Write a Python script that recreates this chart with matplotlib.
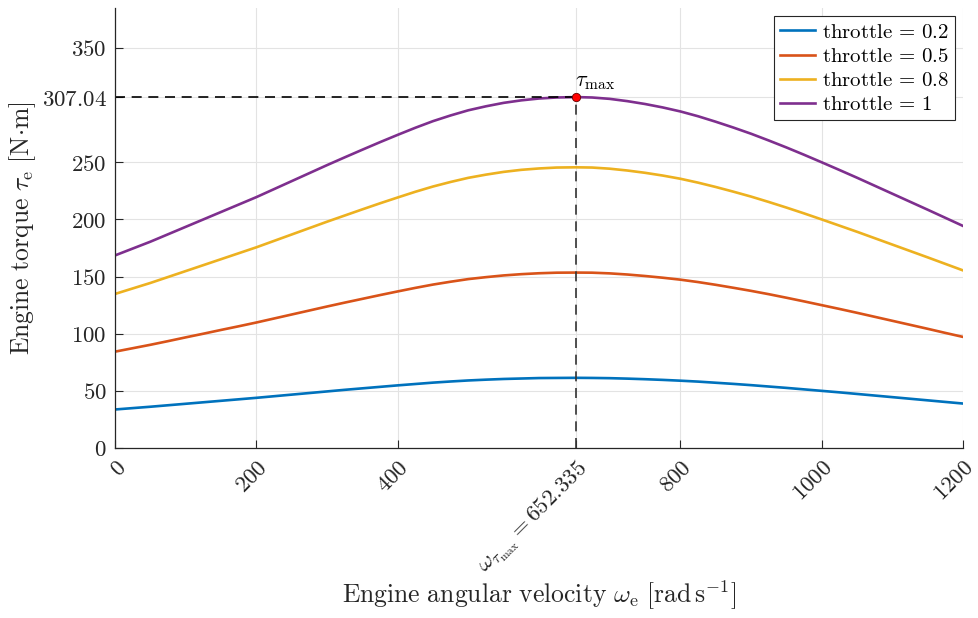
#! /bin/env python3
# torque curves of the engine for a few throttle settings
import matplotlib
matplotlib.use("Agg")
import matplotlib.pyplot as plt

plt.rcParams['mathtext.fontset'] = 'cm'
plt.rcParams['font.family'] = ['DejaVu Serif']

# engine speed samples [rad/s]
omega = [0, 25, 50, 75, 100, 125, 150, 175, 200, 225, 250, 275, 300, 325, 350, 375,
         400, 425, 450, 475, 500, 525, 550, 575, 600, 625, 652.335, 675, 700, 725, 750,
         775, 800, 825, 850, 875, 900, 925, 950, 975, 1000, 1025, 1050, 1075, 1100,
         1125, 1150, 1175, 1200]

# torque [N m]
torque_02 = [33.7, 34.9, 36.1, 37.4, 38.7, 40.0, 41.3, 42.6, 43.9, 45.3, 46.7, 48.1, 49.5,
             50.9, 52.2, 53.5, 54.8, 56.0, 57.2, 58.2, 59.1, 59.8, 60.4, 60.8, 61.2, 61.3,
             61.4, 61.3, 61.1, 60.7, 60.2, 59.6, 58.9, 58.1, 57.1, 56.1, 55.0, 53.8, 52.6,
             51.3, 50.0, 48.7, 47.3, 45.9, 44.5, 43.1, 41.7, 40.3, 38.9]
torque_05 = [84.3, 87.3, 90.3, 93.5, 96.8, 100.0, 103.3, 106.5, 109.8, 113.3, 116.8, 120.3,
             123.8, 127.2, 130.5, 133.8, 137.0, 140.1, 143.0, 145.5, 147.8, 149.5, 151.0,
             152.1, 152.9, 153.4, 153.5, 153.4, 152.8, 151.8, 150.5, 149.0, 147.3, 145.2,
             142.8, 140.2, 137.5, 134.6, 131.5, 128.3, 125.0, 121.7, 118.3, 114.8, 111.3,
             107.8, 104.3, 100.7, 97.2]
torque_08 = [134.8, 139.6, 144.4, 149.6, 154.8, 160.0, 165.2, 170.4, 175.6, 181.2, 186.8,
             192.4, 198.0, 203.4, 208.8, 214.1, 219.2, 224.2, 228.8, 232.8, 236.4, 239.2,
             241.6, 243.4, 244.6, 245.4, 245.6, 245.4, 244.4, 242.8, 240.8, 238.4, 235.6,
             232.2, 228.4, 224.3, 220.0, 215.3, 210.4, 205.3, 200.0, 194.6, 189.2, 183.6,
             178.0, 172.4, 166.8, 161.1, 155.4]
torque_10 = [168.5, 174.5, 180.5, 187.0, 193.5, 200.0, 206.5, 213.0, 219.5, 226.5, 233.5,
             240.5, 247.5, 254.3, 261.0, 267.6, 274.0, 280.2, 286.0, 291.0, 295.5, 299.0,
             302.0, 304.2, 305.8, 306.7, 307.04, 306.7, 305.5, 303.5, 301.0, 298.0, 294.5,
             290.3, 285.5, 280.4, 275.0, 269.1, 263.0, 256.6, 250.0, 243.3, 236.5, 229.5,
             222.5, 215.5, 208.5, 201.4, 194.3]

throttles = ["0.2", "0.5", "0.8", "1"]
series = [torque_02, torque_05, torque_08, torque_10]

omega_peak = 652.335
tau_peak = 307.04

x_ticks = [0, 200, 400, omega_peak, 800, 1000, 1200]
x_ticklabels = ["$0$", "$200$", "$400$", r"$\omega_{\tau_\mathrm{max}} = 652.335$",
                "$800$", "$1000$", "$1200$"]
y_ticks = [0, 50, 100, 150, 200, 250, tau_peak, 350]
y_ticklabels = ["$0$", "$50$", "$100$", "$150$", "$200$", "$250$", "$307.04$", "$350$"]

# matlab default line colors
colors = ["#0072BD", "#D95319", "#EDB120", "#7E2F8E"]
axcol = "#262626"

fig = plt.figure(figsize=(9.79, 6.18), dpi=100)
ax = fig.add_axes([115/979, 1 - 448/618, 848/979, 440/618])

for th, tq, c in zip(throttles, series, colors):
    ax.plot(omega, tq, color=c, lw=1.9, label=r"$\mathrm{throttle}\,=\," + th + "$")

# dashed guides to the maximum torque
ax.plot([0, omega_peak], [tau_peak, tau_peak], color="k", lw=1.2, dashes=(6, 4))
ax.plot([omega_peak, omega_peak], [0, tau_peak], color="#333333", lw=1.2, dashes=(6, 4))
ax.plot([omega_peak], [tau_peak], "o", color="red", mec="#660000", mew=0.6, ms=6, zorder=5)
ax.annotate(r"$\tau_\mathrm{max}$", (omega_peak, tau_peak), xytext=(-1, 4),
            textcoords="offset points", ha="left", va="bottom", fontsize=16)

ax.set_xlim(0, 1200)
ax.set_ylim(0, 385)
ax.set_xticks(x_ticks)
ax.set_xticklabels(x_ticklabels, rotation=45, rotation_mode="anchor", ha="right", va="top",
                   fontsize=16.5)
ax.set_yticks(y_ticks)
ax.set_yticklabels(y_ticklabels, fontsize=16.5)
ax.tick_params(direction="in", length=6, width=0.8, color=axcol, labelcolor=axcol, pad=6)
ax.grid(True, color="#e3e3e3", lw=0.8)
ax.set_axisbelow(True)

for s in ["top", "right"]:
    ax.spines[s].set_visible(False)
for s in ["left", "bottom"]:
    ax.spines[s].set_color(axcol)
    ax.spines[s].set_linewidth(0.9)

ax.set_xlabel(r"$\mathrm{Engine\ angular\ velocity}\ \omega_\mathrm{e}\ [\mathrm{rad\,s}^{-1}]$",
              fontsize=18.5, color=axcol, labelpad=0)
ax.set_ylabel(r"$\mathrm{Engine\ torque}\ \tau_\mathrm{e}\ [\mathrm{N{\cdot}m}]$",
              fontsize=18.5, color=axcol)
ax.yaxis.set_label_coords(-0.091, 0.5)

leg = ax.legend(loc="upper right", fontsize=15, fancybox=False, framealpha=1,
                edgecolor="#262626", handlelength=1.7, handletextpad=0.3,
                borderpad=0.3, labelspacing=0.25, borderaxespad=0.4)
leg.get_frame().set_linewidth(0.8)

fig.savefig("out.png", dpi=100)
